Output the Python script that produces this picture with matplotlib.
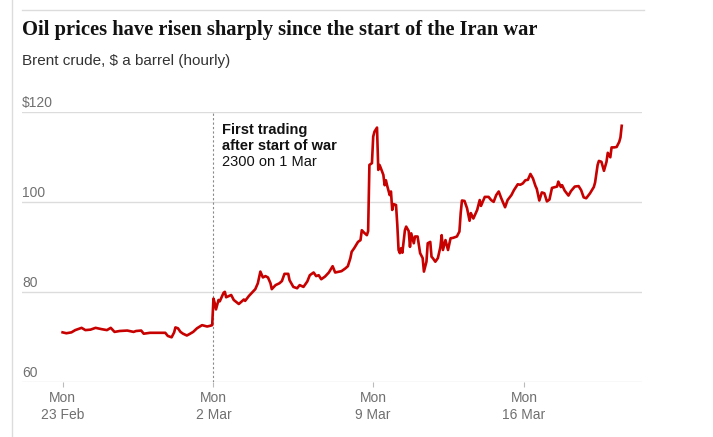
import matplotlib
matplotlib.use("Agg")
import matplotlib.pyplot as plt
from matplotlib.lines import Line2D

# hourly Brent series, x = trading hours since the open on Mon 23 Feb
hour = [0, 3, 7, 10, 15, 18, 22, 26, 31, 35, 38, 41, 45, 51, 56, 58, 62, 64, 69, 75,
        81, 83, 86, 88, 89, 91, 93, 95, 98, 100, 103, 106, 110, 114, 117, 118,
        119, 120, 121, 123, 124, 127, 128, 129, 133, 135, 139, 141, 143, 144, 147,
        149, 152, 154, 156, 158, 160, 162, 164, 165, 168, 171, 173, 175, 178, 179,
        182, 185, 187, 190, 193, 195, 198, 200, 202, 204, 207, 210, 213, 215, 220,
        223, 225, 227, 228, 230, 233, 235, 236, 238, 240, 241,
        242, 244, 245, 246, 248, 249, 250, 251, 253, 254, 255, 256, 258, 259, 260,
        261, 263, 264, 265, 266, 267, 268, 270, 271, 273, 274, 275, 277, 278, 280,
        282, 284, 285, 287, 288, 290, 291, 292, 294, 296, 298, 299, 300, 302, 304,
        306, 308, 311, 313, 314, 315, 317, 319, 321, 322, 324, 327, 329, 330, 333,
        336, 338, 340, 342, 344, 346, 349, 351, 354, 356, 359, 361, 363, 365, 367,
        369, 371, 373, 374, 376, 378, 380, 382, 384, 386, 390, 391, 393, 394, 396,
        399, 401, 404, 407, 409, 411, 413, 416, 419, 420, 422, 423, 425, 427, 429,
        430, 432, 433, 435, 437, 439, 440, 441]
price = [71.1, 70.9, 71.1, 71.6, 72.1, 71.6, 71.7, 72.1, 71.8, 71.6, 72.1, 71.2, 71.4,
         71.5, 71.2, 71.4, 71.5, 70.8, 71.0, 71.0, 71.0, 70.3, 70.0, 71.1, 72.2, 72.0,
         71.2, 70.8, 70.4, 70.7, 71.2, 72.0, 72.7, 72.4, 72.6, 72.7,
         78.6, 77.6, 76.2, 78.3, 78.0, 79.9, 80.1, 78.9, 79.4, 78.3, 77.4, 77.9, 78.4,
         78.1, 79.2, 79.8, 80.7, 82.0, 84.6, 83.3, 83.6, 83.3, 82.0, 80.7, 81.6, 82.0,
         82.5, 84.1, 84.1, 82.7, 81.2, 80.9, 81.6, 81.2, 82.4, 83.8, 84.4, 83.6, 83.8,
         82.9, 83.5, 84.4, 85.8, 84.4, 84.7, 85.3, 85.8, 87.6, 89.0, 89.8, 91.2, 91.6,
         93.8, 93.2, 92.7, 93.6,
         108.3, 108.7, 114.6, 115.7, 116.6, 107.2, 108.3, 107.6, 106.1, 103.8, 104.9,
         103.7, 101.6, 102.4, 98.3, 99.6, 99.4, 95.0, 89.4, 88.7, 89.8, 88.8, 93.8,
         94.6, 93.6, 90.1, 93.1, 90.9, 92.4, 92.4, 88.7, 87.6, 84.6, 86.8, 90.9, 91.2,
         87.9, 87.6, 86.8, 87.6, 90.1, 92.7, 89.4, 91.6, 89.4, 92.0, 92.1, 92.4, 93.5,
         97.6, 100.4, 100.3, 98.7, 95.9, 97.6, 96.4, 98.3, 100.5, 99.2, 101.2, 101.2,
         100.5, 100.1, 101.6, 102.4, 100.9, 98.9, 100.5, 101.6, 102.7, 104.0, 103.9,
         104.2, 104.9, 105.0, 106.3, 105.3, 103.6, 103.0, 100.4, 102.2, 102.0, 100.2,
         100.6, 103.2, 103.5, 104.6, 103.4, 103.8, 102.6, 101.5, 102.5, 103.5, 103.6,
         102.7, 101.1, 100.9, 102.0, 103.4, 104.4, 108.3, 109.2, 109.0, 107.0, 109.0,
         111.0, 110.0, 112.2, 112.2, 112.3, 113.4, 114.4, 117.0]

tick_hours = [0, 119, 245, 364]
tick_labels = ["Mon\n23 Feb", "Mon\n2 Mar", "Mon\n9 Mar", "Mon\n16 Mar"]
y_ticks = [60, 80, 100, 120]
y_labels = ["60", "80", "100", "$120"]
war_hour = 119

RED = "#c70000"
GRID = "#dcdcdc"
LABEL = "#707070"
INK = "#121212"
SANS = ["Liberation Sans", "DejaVu Sans"]
SERIF = ["Liberation Serif", "DejaVu Serif"]

fig = plt.figure(figsize=(7.13, 4.37), dpi=100)
fig.patch.set_facecolor("white")
ax = fig.add_axes([22 / 713, 54.7 / 437, 620 / 713, 270 / 437])

ax.plot(hour, price, color=RED, lw=1.9, solid_joinstyle="round", zorder=3, clip_on=False)

ax.set_xlim(-32, 457)
ax.set_ylim(60, 120)
for s in ax.spines.values():
    s.set_visible(False)

ax.set_yticks(y_ticks)
ax.yaxis.grid(True, color=GRID, lw=1)
ax.tick_params(axis="y", length=0, labelleft=False)
for v, t in zip(y_ticks, y_labels):
    ax.annotate(t, xy=(0, v), xycoords=ax.get_yaxis_transform(), xytext=(0, 1.5),
                textcoords="offset points", ha="left", va="bottom",
                fontsize=10, color=LABEL, family=SANS)

ax.set_xticks(tick_hours)
ax.set_xticklabels(tick_labels, family=SANS, fontsize=10, color=LABEL, linespacing=1.3)
ax.tick_params(axis="x", length=3.5, width=0.8, color="#bbbbbb", pad=2.5)
ax.set_axisbelow(True)

# start of war marker
ax.plot([war_hour, war_hour], [60, 120], color="#8a8a8a", lw=0.8,
        linestyle=(0, (2, 2)), zorder=2)
ax.annotate("First trading\nafter start of war", xy=(war_hour, 120), xytext=(6, -7.5),
            textcoords="offset points", ha="left", va="top", fontsize=10.5,
            fontweight="bold", color=INK, family=SANS, linespacing=1.25)
ax.annotate("2300 on 1 Mar", xy=(war_hour, 120), xytext=(6, -36),
            textcoords="offset points", ha="left", va="center", fontsize=10.5,
            color=INK, family=SANS)

# header
fig.text(22 / 713, 1 - 35.5 / 437, "Oil prices have risen sharply since the start of the Iran war",
         ha="left", va="baseline", fontsize=14.8, fontweight="bold", color=INK, family=SERIF)
fig.text(22 / 713, 1 - 64.5 / 437, "Brent crude, $ a barrel (hourly)",
         ha="left", va="baseline", fontsize=11, color="#333333", family=SANS)

# frame lines
fig.add_artist(Line2D([22 / 713, 644 / 713], [1 - 9.5 / 437] * 2, color=GRID, lw=1))
fig.add_artist(Line2D([11.5 / 713] * 2, [0, 1], color=GRID, lw=1))

fig.savefig("out.png", dpi=100, facecolor="white")
